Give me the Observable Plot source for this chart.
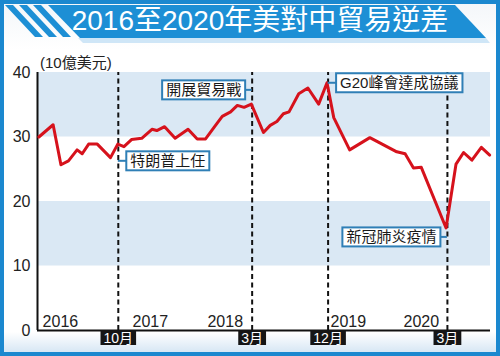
<!DOCTYPE html>
<html><head><meta charset="utf-8">
<script src="https://cdn.jsdelivr.net/npm/d3@7"></script>
<script src="https://cdn.jsdelivr.net/npm/@observablehq/plot@0.6"></script>
<style>
body{margin:0;background:#fff;}
#wrap{position:relative;width:500px;height:356px;overflow:hidden;
  background:linear-gradient(to bottom,#f3f6f9 0px,#ffffff 50px,#ffffff 332px,#cfe2f2 356px);
  font-family:"Liberation Sans","Noto Sans CJK TC",sans-serif;}
#frame{position:absolute;left:0;top:0;width:500px;height:356px;box-sizing:border-box;border:4px solid #1b88cf;pointer-events:none;z-index:10;}
#deco{position:absolute;left:0;top:0;z-index:2;}
#title{position:absolute;left:0;top:4px;width:520px;height:34px;line-height:34px;text-align:center;color:#fff;font-size:28px;white-space:nowrap;z-index:3;font-family:"Liberation Sans","Noto Sans CJK TC",sans-serif;}
#unit{position:absolute;left:40px;top:51px;font-size:15px;color:#222;z-index:3;white-space:nowrap;}
#chart{position:absolute;left:0;top:0;z-index:1;}
</style></head>
<body>
<div id="wrap">
  <svg id="deco" width="500" height="50">
    <polygon points="5,5 13,5 43,37 35,37" fill="#1d8fd5"/>
    <polygon points="19,5 27,5 57,37 49,37" fill="#1d8fd5"/>
    <polygon points="33,5 41,5 71,37 63,37" fill="#1d8fd5"/>
    <polygon points="78,38 486,38 490,43 83,43" fill="#cfe6f7"/>
    <polygon points="48,5 455,5 486,38 80,38" fill="#1d8fd5"/>
  </svg>
  <div id="title">2016至2020年美對中貿易逆差</div>
  <div id="unit">(10億美元)</div>
  <div id="chart"></div>
  <div id="frame"></div>
</div>
<script>
// ---- data ----
const seriesDates = ["2016-01-01","2016-02-23","2016-03-23","2016-04-20","2016-05-22","2016-06-10","2016-07-04","2016-08-05","2016-09-23","2016-10-20","2016-11-12","2016-12-10","2017-01-17","2017-02-24","2017-03-14","2017-04-12","2017-05-21","2017-07-08","2017-08-11","2017-09-11","2017-10-18","2017-11-12","2017-12-13","2018-01-07","2018-02-01","2018-02-28","2018-04-14","2018-05-09","2018-06-03","2018-06-27","2018-07-18","2018-08-23","2018-09-26","2018-11-05","2018-12-06","2018-12-31","2019-02-28","2019-05-14","2019-08-22","2019-09-22","2019-10-23","2019-11-21","2020-02-21","2020-03-29","2020-04-26","2020-05-27","2020-07-01","2020-08-01"];
const seriesValues = [30.0,31.9,25.7,26.3,28.0,27.4,28.9,28.9,26.8,28.9,28.5,29.6,29.8,31.2,31.0,31.6,29.8,31.2,29.7,29.7,31.8,33.2,33.9,34.9,34.6,35.1,30.7,31.8,32.4,33.6,33.9,36.7,37.6,35.1,38.4,33.0,28.0,29.9,27.7,27.4,25.2,25.3,15.9,25.8,27.6,26.4,28.4,27.2];
const bandFrom = [10, 30];
const bandTo = [20, 40];
const xDomain = ["2015-12-27", "2020-08-04"];
const yTicks = [0, 10, 20, 30, 40];
const eventDates = ["2016-10-22", "2018-03-03", "2018-12-10", "2020-02-26"];
const eventMonthLabels = ["10月", "3月", "12月", "3月"];
const eventNotes = ["特朗普上任", "開展貿易戰", "G20峰會達成協議", "新冠肺炎疫情"];
const eventNoteValues = [26.2, 37.2, 38.3, 14.4];
const eventNoteSide = ["right", "left", "right", "left"];
const yearLabels = ["2016", "2017", "2018", "2019", "2020"];
const yearLabelDates = ["2016-01-15", "2016-12-14", "2017-09-18", "2018-12-19", "2019-09-16"];

// ---- tables ----
const series = seriesDates.map((d, i) => ({date: new Date(d), value: seriesValues[i]}));
const xStart = new Date(xDomain[0]), xEnd = new Date(xDomain[1]);
const bands = bandFrom.map((lo, i) => ({lo, hi: bandTo[i]}));
const events = eventDates.map((d, i) => ({date: new Date(d), month: eventMonthLabels[i], note: eventNotes[i], noteValue: eventNoteValues[i], side: eventNoteSide[i]}));
const years = yearLabels.map((l, i) => ({label: l, date: new Date(yearLabelDates[i])}));
const notesRight = events.filter(d => d.side === "right");
const notesLeft = events.filter(d => d.side === "left");

const FONT = '"Liberation Sans","Noto Sans CJK TC",sans-serif';
const chart = Plot.plot({
  width: 500, height: 356,
  marginLeft: 37, marginRight: 10, marginTop: 72, marginBottom: 26,
  style: {background: "transparent", fontFamily: FONT, overflow: "visible"},
  x: {type: "utc", domain: [xStart, xEnd], axis: null},
  y: {domain: [0, 40], axis: null},
  marks: [
    Plot.rect(bands, {x1: () => xStart, x2: () => xEnd, y1: "lo", y2: "hi", fill: "#dae8f4"}),
    Plot.axisY(yTicks, {tickSize: 0, tickPadding: 7, fontSize: 16, color: "#222"}),
    Plot.ruleX(events, {x: "date", y1: 0, y2: 40, stroke: "#111", strokeWidth: 2, strokeDasharray: "5,3.5"}),
    Plot.ruleX([xStart], {stroke: "#111", strokeWidth: 2}),
    Plot.ruleY([0], {stroke: "#111", strokeWidth: 2}),
    Plot.line(series, {x: "date", y: "value", stroke: "#d6121c", strokeWidth: 3}),
    Plot.text(years, {x: "date", text: "label", frameAnchor: "bottom", dy: -4, textAnchor: "start", fontSize: 16, fill: "#222"}),
    Plot.text(events, {x: "date", text: "month", frameAnchor: "bottom", dy: 12, fontSize: 14, fill: "#fff"}),
    Plot.text(notesRight, {x: "date", y: "noteValue", text: "note", textAnchor: "start", dx: 12, fontSize: 15, fill: "#1a1a1a"}),
    Plot.text(notesLeft, {x: "date", y: "noteValue", text: "note", textAnchor: "end", dx: -11, fontSize: 15, fill: "#1a1a1a"})
  ]
});
document.getElementById("chart").append(chart);

// ---- label boxes, sized from the rendered text ----
const svg = chart.tagName.toLowerCase() === "svg" ? chart : chart.querySelector("svg");
const ns = "http://www.w3.org/2000/svg";
const sr = svg.getBoundingClientRect();
const xScale = chart.scale("x");
function el(name, attrs) { const e = document.createElementNS(ns, name); for (const k in attrs) e.setAttribute(k, attrs[k]); return e; }
const textGroups = Array.from(svg.querySelectorAll(':scope > g[aria-label="text"]'));
const [, monthG, noteRG, noteLG] = textGroups;

if (monthG) {
  const back = el("g", {});
  monthG.querySelectorAll("text").forEach(t => {
    const r = t.getBoundingClientRect();
    const cx = (r.left + r.right) / 2 - sr.left, cy = (r.top + r.bottom) / 2 - sr.top;
    const w = r.width + 6, h = 15;
    back.append(el("rect", {x: cx - w / 2, y: cy - h / 2, width: w, height: h, fill: "#151515"}));
  });
  monthG.parentNode.insertBefore(back, monthG);
}
[[noteRG, notesRight], [noteLG, notesLeft]].forEach(([g, arr]) => {
  if (!g) return;
  const back = el("g", {});
  g.querySelectorAll("text").forEach((t, i) => {
    const r = t.getBoundingClientRect();
    const cy = (r.top + r.bottom) / 2 - sr.top;
    const x0 = r.left - sr.left - 4, x1 = r.right - sr.left + 4, h = 19;
    const rx = xScale.apply(arr[i].date);
    const edge = arr[i].side === "right" ? x0 : x1;
    back.append(el("line", {x1: rx, x2: edge, y1: cy, y2: cy, stroke: "#2f7fb6", "stroke-width": 2}));
    back.append(el("rect", {x: x0, y: cy - h / 2, width: x1 - x0, height: h, fill: "#fff", stroke: "#2f7fb6", "stroke-width": 2}));
  });
  g.parentNode.insertBefore(back, g);
});
</script>
</body></html>
